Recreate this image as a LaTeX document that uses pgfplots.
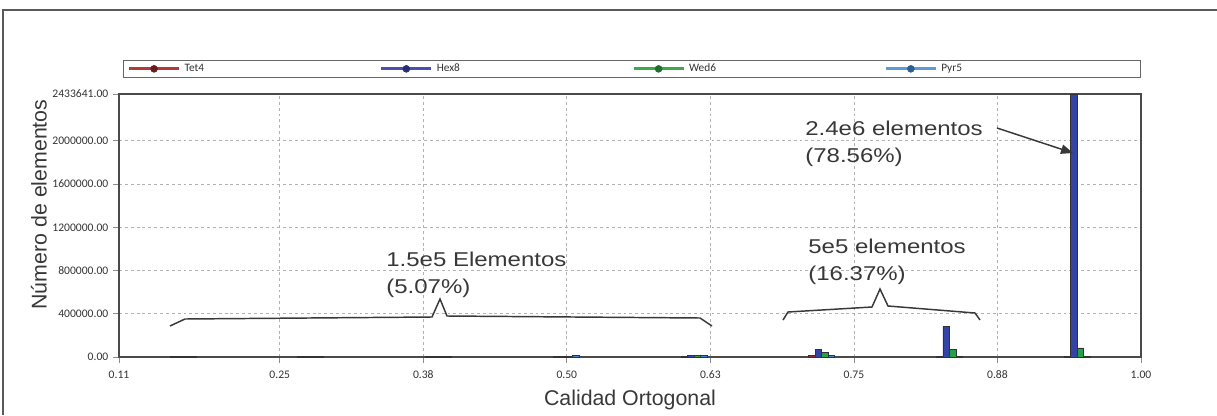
\documentclass[border=0pt]{standalone}
\usepackage{pgfplots}
\usepackage{pgfplotstable}
\pgfplotsset{compat=1.18}
\usepackage{fontspec}
\setmainfont{Liberation Sans}
\newfontfamily\uifont{Carlito}
\usetikzlibrary{arrows.meta}

\definecolor{tetfill}{HTML}{8E2B2B}
\definecolor{hexfill}{HTML}{3343A6}
\definecolor{wedfill}{HTML}{25A046}
\definecolor{pyrfill}{HTML}{3C88D2}
\definecolor{tetline}{HTML}{B23A3A}
\definecolor{tetmark}{HTML}{6A1C1C}
\definecolor{hexline}{HTML}{4A50B0}
\definecolor{hexmark}{HTML}{2A2C78}
\definecolor{wedline}{HTML}{3AAA4A}
\definecolor{wedmark}{HTML}{1E6E2C}
\definecolor{pyrline}{HTML}{5C9BD6}
\definecolor{pyrmark}{HTML}{2B5E92}
\definecolor{txt}{HTML}{383838}
\definecolor{axline}{HTML}{4A4A4A}

% element counts per orthogonal-quality bin (bin centres)
\pgfplotstableread{
x        tet    hex      wed    pyr
0.165625 8000   9000     7000   6000
0.276875 7500   9000     7000   6500
0.388125 8000   8500     7000   6000
0.499375 5000   6000     5000   18000
0.610625 4000   14000    13000  13000
0.721875 12000  70000    45000  15000
0.833125 5000   280000   70000  3000
0.944375 4000   2433641  85000  3000
}\quality

\pgfplotsset{
  legline/.style 2 args={legend image code/.code={
      \draw[line width=2.2pt,#1] (0pt,0pt) -- (37.5pt,0pt);
      \fill[#2] (18.75pt,0pt) circle (2.6pt);}},
}

\begin{document}
\begin{tikzpicture}
\begin{scope}[x=0.75pt,y=-0.75pt,shift={(-89.25pt,267.75pt)}]
  \useasboundingbox (0,0) rectangle (1217,415);
  \draw[line width=1.2pt, black!65] (3,415) -- (3,10) -- (1217,10);
\end{scope}

\begin{axis}[
  at={(0pt,0pt)}, anchor=south west,
  scale only axis, width=766.5pt, height=197.25pt,
  xmin=0.11, xmax=1.0, ymin=0, ymax=2433641,
  ybar=0pt, bar width=0.00566,
  axis line style={axline, line width=0.9pt},
  xtick={0.11,0.25,0.375,0.5,0.625,0.75,0.875,1.0},
  xticklabels={0.11,0.25,0.38,0.50,0.63,0.75,0.88,1.00},
  ytick={0,400000,800000,1200000,1600000,2000000,2433641},
  yticklabels={0.00,400000.00,800000.00,1200000.00,1600000.00,2000000.00,2433641.00},
  scaled y ticks=false,
  tick pos=left, tick align=outside,
  major tick length=4.5pt,
  tick style={black!45, line width=0.6pt},
  grid=major, grid style={black!30, dash pattern=on 2.2pt off 2.2pt, line width=0.6pt},
  ticklabel style={font=\uifont\fontsize{8.7}{10}\selectfont, text=black!80},
  xticklabel style={yshift=-2.5pt},
  xlabel={Calidad Ortogonal}, ylabel={Número de elementos},
  label style={text=txt},
  xlabel style={font=\fontsize{16}{18}\selectfont, at={(axis description cs:0.5,-0.1635)}, anchor=center},
  ylabel style={font=\fontsize{16}{18}\selectfont, at={(axis description cs:-0.0785,0.580)}, anchor=center},
  legend columns=4,
  legend cell align=left,
  legend style={at={(axis description cs:0.0039,1.1293)}, anchor=north west,
    draw=black!60, line width=0.9pt, fill=white,
    inner xsep=3pt, inner ysep=1.5pt,
    font=\uifont\fontsize{8.5}{9}\selectfont, text=black!80,
    nodes={text width=143.5pt, inner xsep=3pt, inner ysep=1pt}},
]
\addplot[fill=tetfill, draw=black!80, line width=0.4pt, legline={tetline}{tetmark}]
  table[x=x, y=tet] {\quality};
\addplot[fill=hexfill, draw=black!80, line width=0.4pt, legline={hexline}{hexmark}]
  table[x=x, y=hex] {\quality};
\addplot[fill=wedfill, draw=black!80, line width=0.4pt, legline={wedline}{wedmark}]
  table[x=x, y=wed] {\quality};
\addplot[fill=pyrfill, draw=black!80, line width=0.4pt, legline={pyrline}{pyrmark}]
  table[x=x, y=pyr] {\quality};
\legend{Tet4,Hex8,Wed6,Pyr5}
\end{axis}

\begin{scope}[x=0.75pt,y=-0.75pt,shift={(-89.25pt,267.75pt)},
  note/.style={anchor=base west, inner sep=0pt, text=txt,
    font=\fontsize{15}{18}\selectfont, xscale=1.2}]
  % braces grouping the low-quality bins
  \draw[line width=1.1pt, txt, line join=miter]
    (170,326) -- (185,319) -- (432,317) -- (440,299) -- (447,316) -- (700,318) -- (712,326);
  \draw[line width=1.1pt, txt, line join=miter]
    (783,320) -- (788,312) -- (872,307) -- (880,289) -- (888,306) -- (975,313) -- (980,320);
  \node[note] at (386,266) {1.5e5 Elementos};
  \node[note] at (386,293) {(5.07\%)};
  \node[note] at (808,253) {5e5 elementos};
  \node[note] at (808,280) {(16.37\%)};
  \node[note] at (805,135) {2.4e6 elementos};
  \node[note] at (805,162) {(78.56\%)};
  \draw[line width=1.1pt, txt, -{Triangle[length=9pt,width=7pt]}] (997,128) -- (1073,153);
\end{scope}
\end{tikzpicture}
\end{document}
